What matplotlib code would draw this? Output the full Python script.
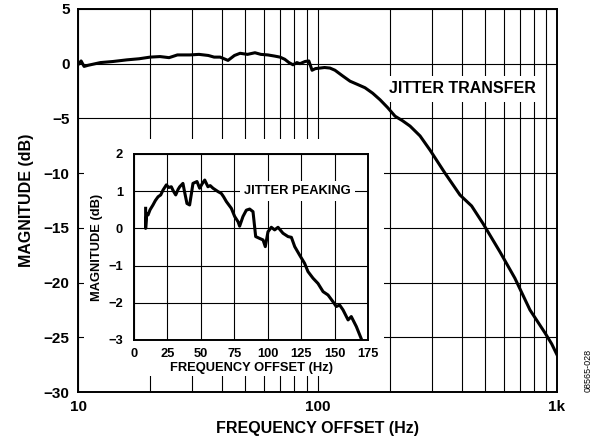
import numpy as np
import matplotlib
matplotlib.use('Agg')
import matplotlib.pyplot as plt
from matplotlib.patches import Rectangle

plt.rcParams['font.family'] = ['Liberation Sans', 'DejaVu Sans']
plt.rcParams['font.weight'] = 'bold'

# jitter transfer (main plot)
freq_main = [10, 10.3, 10.6, 11, 12.4, 14, 16, 18, 20, 22, 24, 26, 29.3, 32, 35,
             37, 39.2, 42.3, 45, 47.5, 51, 54.8, 58, 62, 66, 69.7, 73, 76, 79, 82,
             84.5, 88.7, 92, 94.9, 98, 102.4, 107, 112.7, 118.3, 127, 136.7, 147,
             157.9, 170, 182.5, 196, 210.8, 226, 243.4, 268, 295.1, 340.6, 393.5,
             440, 490.8, 578, 667, 771, 891, 950, 1000]
mag_main = [-0.1, 0.25, -0.25, -0.15, 0.1, 0.2, 0.35, 0.45, 0.6, 0.65, 0.55, 0.8, 0.8,
            0.85, 0.75, 0.6, 0.6, 0.3, 0.75, 0.95, 0.85, 1.0, 0.85, 0.8, 0.7, 0.6,
            0.4, 0.1, -0.1, 0.1, 0.0, 0.2, 0.25, -0.6, -0.45, -0.4, -0.35, -0.4,
            -0.6, -1.1, -1.6, -1.9, -2.2, -2.7, -3.3, -4.0, -4.8, -5.2, -5.7, -6.6,
            -7.9, -10.0, -12.0, -13.0, -14.6, -17.2, -19.6, -22.5, -24.6, -25.6, -26.6]

# jitter peaking (inset), linear frequency axis
freq_in = [8.7, 8.7, 9.5, 10.5, 12, 14.2, 16, 18, 20, 21.7, 24.2, 26, 27.9, 29.5, 31.2,
           33, 34.2, 36.6, 38, 39.6, 41.6, 43, 44.1, 47.1, 49.1, 51, 52.9, 55.3, 57,
           59.1, 62.8, 65.3, 67, 69.1, 72.8, 75.3, 77.8, 79, 81.5, 84, 86.5, 89, 91,
           94, 96.5, 98.2, 100.2, 102.7, 105.2, 107.7, 111.4, 115.2, 117.7, 120.2,
           123.9, 127.6, 130.1, 133.9, 137.6, 141.4, 145.1, 148.8, 151.3, 153.8,
           156.3, 160.1, 162.5, 166.3, 170]
mag_in = [0.54, 0.0, 0.4, 0.36, 0.5, 0.63, 0.75, 0.85, 0.9, 1.03, 1.17, 1.1, 1.12, 1.0, 0.9,
          1.05, 1.12, 1.21, 0.95, 0.67, 0.63, 0.95, 1.21, 1.26, 1.08, 1.2, 1.30, 1.12,
          1.15, 1.08, 0.99, 0.94, 0.85, 0.72, 0.54, 0.32, 0.18, 0.06, 0.32, 0.49, 0.52,
          0.45, -0.22, -0.27, -0.31, -0.49, -0.09, 0.03, -0.04, 0.03, -0.13, -0.22,
          -0.24, -0.49, -0.72, -0.94, -1.16, -1.34, -1.48, -1.70, -1.79, -1.97, -2.10,
          -2.06, -2.19, -2.46, -2.37, -2.64, -2.97]

fig = plt.figure(figsize=(5.97, 4.48), dpi=100)
ax = fig.add_axes([0.1307, 0.125, 0.8023, 0.855])
ax.set_xscale('log')
ax.set_xlim(10, 1000)
ax.set_ylim(-30, 5)
ax.set_yticks(np.arange(-30, 6, 5))
ax.set_yticklabels(['\u221230', '\u221225', '\u221220', '\u221215', '\u221210', '\u22125', '0', '5'])
ax.set_xticks([10, 100, 1000])
ax.set_xticklabels(['10', '100', '1k'])
ax.xaxis.set_minor_formatter(matplotlib.ticker.NullFormatter())
ax.tick_params(which='both', length=0, labelsize=11, pad=6)
ax.set_axisbelow(True)
ax.grid(which='both', axis='x', color='black', lw=0.8)
ax.grid(which='major', axis='y', color='black', lw=0.8)
for s in ax.spines.values():
    s.set_linewidth(1.4)

# white patch hiding the grid behind the inset
ax.add_patch(Rectangle((84 / 597, 1 - 376 / 448), 300 / 597, 237 / 448,
                       transform=fig.transFigure, facecolor='white',
                       edgecolor='none', zorder=1))
ax.plot(freq_main, mag_main, color='black', lw=2.2, zorder=3)
ax.text(401, -2.3, 'JITTER TRANSFER', ha='center', va='center', fontsize=11.5,
        fontweight='bold', bbox=dict(facecolor='white', edgecolor='none', pad=4), zorder=2)
ax.set_xlabel('FREQUENCY OFFSET (Hz)', fontsize=11.5, fontweight='bold', labelpad=5)
ax.set_ylabel('MAGNITUDE (dB)', fontsize=11.5, fontweight='bold', labelpad=7)

axi = fig.add_axes([134 / 597, 1 - 340 / 448, 234 / 597, 186 / 448])
axi.set_xlim(0, 175)
axi.set_ylim(-3, 2)
axi.set_xticks(np.arange(0, 176, 25))
axi.set_yticks(np.arange(-3, 3, 1))
axi.set_yticklabels(['\u22123', '\u22122', '\u22121', '0', '1', '2'])
axi.tick_params(length=0, labelsize=9.3, pad=6)
axi.tick_params(axis='y', pad=8)
axi.set_axisbelow(True)
axi.grid(color='black', lw=0.8)
for s in axi.spines.values():
    s.set_linewidth(1.4)
axi.plot(freq_in, mag_in, color='black', lw=2.2, zorder=3)
axi.text(122, 1.0, 'JITTER PEAKING', ha='center', va='center', fontsize=9.3,
         fontweight='bold', bbox=dict(facecolor='white', edgecolor='none', pad=3), zorder=2)
axi.set_xlabel('FREQUENCY OFFSET (Hz)', fontsize=9.3, fontweight='bold', labelpad=1)
axi.set_ylabel('MAGNITUDE (dB)', fontsize=9.3, fontweight='bold', labelpad=4)

fig.text(0.985, 0.174, '08565-028', rotation=90, fontsize=6.5, fontweight='normal',
         ha='center', va='center')

fig.savefig('out.png', dpi=100)
